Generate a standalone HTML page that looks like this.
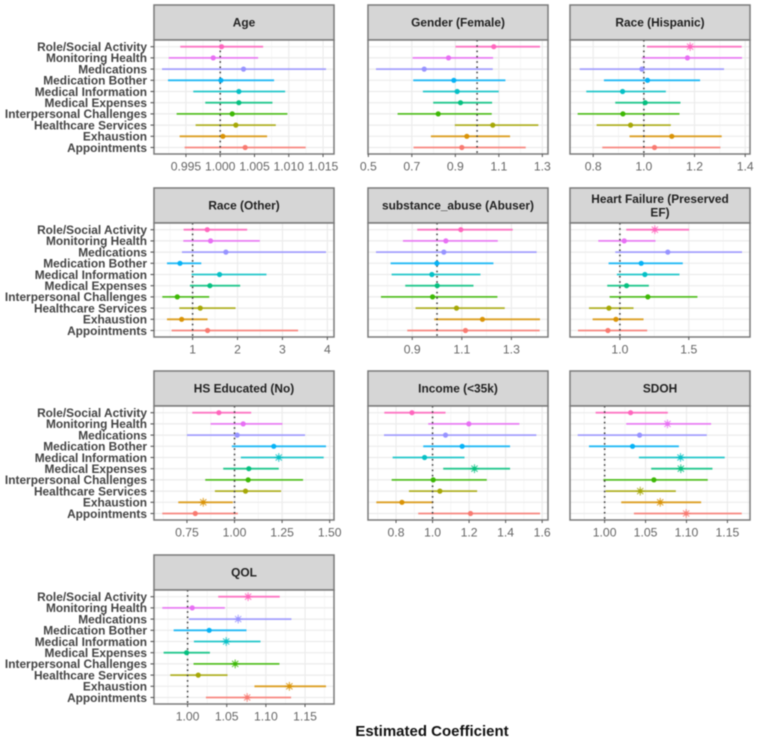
<!DOCTYPE html>
<html lang="en">
<head>
<meta charset="utf-8">
<title>Estimated Coefficient Forest Plots</title>
<style>
html,body{margin:0;padding:0;background:#fff;}
svg{display:block;filter:blur(0.5px);font-family:"Liberation Sans",sans-serif;}
</style>
</head>
<body>
<svg id="chart" xmlns="http://www.w3.org/2000/svg" width="759" height="742" viewBox="0 0 759 742">
<rect width="759" height="742" fill="#fff"/>
<text x="432" y="736" text-anchor="middle" font-size="15" font-weight="700" fill="#111">Estimated Coefficient</text>
</svg>
<script>
const categories = ['Role/Social Activity','Monitoring Health','Medications','Medication Bother','Medical Information','Medical Expenses','Interpersonal Challenges','Healthcare Services','Exhaustion','Appointments'];
const seriesColors = ['#FF62BC','#E76BF3','#9590FF','#00B0F6','#00BFC4','#00BF7D','#39B600','#A3A500','#D89000','#F8766D'];

const ageTicks = ['0.995','1.000','1.005','1.010','1.015'];
const ageDomain = [0.99034,1.0166];
const ageLow = [0.99417,0.99248,0.99151,0.99238,0.99607,0.99782,0.99364,0.99641,0.99408,0.99481];
const ageEst = [1.0002,0.99898,1.0034,1.0001,1.00272,1.00272,1.00175,1.00228,1.00039,1.00364];
const ageHigh = [1.00626,1.00553,1.01544,1.00786,1.00947,1.00762,1.0098,1.00811,1.00684,1.01247];

const genderTicks = ['0.5','0.7','0.9','1.1','1.3'];
const genderDomain = [0.4985,1.326];
const genderLow = [0.9008,0.7034,0.5352,0.7065,0.7509,0.7983,0.6346,0.8977,0.7876,0.708];
const genderEst = [1.0767,0.8686,0.757,0.8931,0.9084,0.9237,0.8212,1.0721,0.9528,0.9298];
const genderHigh = [1.2893,1.0736,1.0721,1.1302,1.0996,1.069,1.0675,1.2816,1.1516,1.2235];

const hispanicTicks = ['0.8','1.0','1.2','1.4'];
const hispanicDomain = [0.7085,1.4189];
const hispanicLow = [1.0118,0.9921,0.7466,0.8424,0.7728,0.8871,0.7387,0.8135,0.9435,0.8359];
const hispanicEst = [1.1825,1.172,0.9921,1.0144,0.916,1.0053,0.9173,0.9475,1.1103,1.042];
const hispanicHigh = [1.3861,1.3874,1.3165,1.2219,1.0867,1.1445,1.1405,1.1064,1.3073,1.302];

const otherTicks = ['1','2','3','4'];
const otherDomain = [0.1407,4.148];
const otherLow = [0.8,0.793,0.763,0.43,0.978,0.941,0.326,0.704,0.43,0.533];
const otherEst = [1.326,1.4,1.741,0.719,1.6,1.385,0.659,1.17,0.756,1.333];
const otherHigh = [2.215,2.496,3.97,1.193,2.644,2.059,1.37,1.956,1.333,3.348];

const substanceTicks = ['0.9','1.1','1.3'];
const substanceDomain = [0.7215,1.4477];
const substanceLow = [0.9201,0.8624,0.7537,0.8128,0.8168,0.8718,0.7738,0.9134,0.9886,0.8799];
const substanceEst = [1.096,1.0356,1.0275,0.9993,0.9792,1.0007,0.9819,1.0785,1.1832,1.1148];
const substanceHigh = [1.3054,1.245,1.402,1.2275,1.1752,1.147,1.2436,1.2732,1.4154,1.4141];

const heartTicks = ['1.0','1.5'];
const heartDomain = [0.6377,1.9444];
const heartLow = [1.0459,0.843,0.9662,0.9179,0.9783,0.9082,0.9251,0.7754,0.8019,0.6957];
const heartEst = [1.2536,1.0314,1.3478,1.1546,1.1812,1.0483,1.2029,0.9203,0.971,0.913];
const heartHigh = [1.5024,1.2585,1.8865,1.4565,1.4324,1.2101,1.5628,1.099,1.1715,1.1981];

const hsTicks = ['0.75','1.00','1.25','1.50'];
const hsDomain = [0.5769,1.5227];
const hsLow = [0.778,0.8741,0.75,0.986,1.0332,0.9406,0.8462,0.8969,0.7045,0.6206];
const hsEst = [0.9178,1.0455,1.014,1.2063,1.2325,1.0752,1.0717,1.0577,0.8357,0.7937];
const hsHigh = [1.0874,1.2517,1.3706,1.4808,1.4685,1.2325,1.3601,1.2448,0.9913,1.0175];

const incomeTicks = ['0.8','1.0','1.2','1.4','1.6'];
const incomeDomain = [0.6466,1.632];
const incomeLow = [0.7359,0.9763,0.7341,0.949,0.7814,1.0583,0.776,0.8707,0.6922,0.9217];
const incomeEst = [0.8871,1.1985,1.071,1.1621,0.9563,1.2295,1.0036,1.0401,0.8324,1.2077];
const incomeHigh = [1.071,1.4754,1.5683,1.4244,1.1749,1.4244,1.2969,1.2441,1.0036,1.5883];

const sdohTicks = ['1.00','1.05','1.10','1.15'];
const sdohDomain = [0.9577,1.1776];
const sdohLow = [0.989,1.0264,0.9671,0.9809,1.0419,1.0569,0.9984,1.0012,1.0203,1.0358];
const sdohEst = [1.0317,1.0768,1.0427,1.0341,1.0927,1.0931,1.0602,1.0435,1.0679,1.0996];
const sdohHigh = [1.0772,1.1301,1.1248,1.0907,1.1467,1.1317,1.126,1.087,1.1179,1.1675];

const qolTicks = ['1.00','1.05','1.10','1.15'];
const qolDomain = [0.9571,1.187];
const qolLow = [1.0391,0.9677,1.0017,0.9822,1.0081,0.9694,1.0076,0.9779,1.0854,1.0234];
const qolEst = [1.0773,1.0059,1.0646,1.0276,1.0493,0.9987,1.0608,1.0136,1.13,1.0761];
const qolHigh = [1.1177,1.0476,1.1326,1.0752,1.0931,1.0285,1.1173,1.051,1.1768,1.1322];

const panelTitles = [['Age'],['Gender (Female)'],['Race (Hispanic)'],['Race (Other)'],['substance_abuse (Abuser)'],['Heart Failure (Preserved','EF)'],['HS Educated (No)'],['Income (<35k)'],['SDOH'],['QOL']];
const panelTicks = [ageTicks,genderTicks,hispanicTicks,otherTicks,substanceTicks,heartTicks,hsTicks,incomeTicks,sdohTicks,qolTicks];
const panelDomains = [ageDomain,genderDomain,hispanicDomain,otherDomain,substanceDomain,heartDomain,hsDomain,incomeDomain,sdohDomain,qolDomain];
const panelLows = [ageLow,genderLow,hispanicLow,otherLow,substanceLow,heartLow,hsLow,incomeLow,sdohLow,qolLow];
const panelEsts = [ageEst,genderEst,hispanicEst,otherEst,substanceEst,heartEst,hsEst,incomeEst,sdohEst,qolEst];
const panelHighs = [ageHigh,genderHigh,hispanicHigh,otherHigh,substanceHigh,heartHigh,hsHigh,incomeHigh,sdohHigh,qolHigh];

const svg = document.getElementById('chart');
const NS = 'http://www.w3.org/2000/svg';
const colLeft = [154,368,570];
const rowTop = [5,188,371,555];
const panelW = 180, stripH = 35, panelH = 114;

function make(parent, tag, attrs, text) {
  const el = document.createElementNS(NS, tag);
  for (const k in attrs) el.setAttribute(k, attrs[k]);
  if (text !== undefined) el.textContent = text;
  parent.appendChild(el);
  return el;
}
function slug(s) { return s.toLowerCase().replace(/[^a-z0-9]+/g, '-').replace(/^-|-$/g, ''); }

panelTitles.forEach(function (titleLines, p) {
  const left = colLeft[p % 3], top = rowTop[Math.floor(p / 3)];
  const panelTop = top + stripH, panelBottom = panelTop + panelH;
  const dom = panelDomains[p];
  const xScale = function (v) { return left + (v - dom[0]) / (dom[1] - dom[0]) * panelW; };
  const yScale = function (i) { return panelTop + 6.7 + i * 11.2; };
  const name = slug(titleLines.join(' '));

  const g = make(svg, 'g', {});
  
  

  const strip = make(g, 'rect', {x:left, y:top, width:panelW, height:stripH, fill:'#d6d6d6', stroke:'#7a7a7a', 'stroke-width':1.5});
  
  

  titleLines.forEach(function (line, k) {
    const cy = top + stripH / 2 + 4 + (k - (titleLines.length - 1) / 2) * 13.5;
    const t = make(g, 'text', {x:left + panelW / 2, y:cy, 'text-anchor':'middle', 'font-size':11.9, 'font-weight':700, fill:'#222'}, line);
    
    
  });

  const bg = make(g, 'rect', {x:left, y:panelTop, width:panelW, height:panelH, fill:'#fff'});
  
  

  // Vertical grid: majors at tick multiples, minors halfway between.
  const tickVals = panelTicks[p].map(Number);
  const step = tickVals[1] - tickVals[0];
  for (let n = -40; n <= 40; n++) {
    const v = tickVals[0] + n * step / 2;
    if (v <= dom[0] || v >= dom[1]) continue;
    const major = n % 2 === 0;
    const gl = make(g, 'line', {x1:xScale(v), x2:xScale(v), y1:panelTop, y2:panelBottom, stroke:major ? '#ececec' : '#f4f4f4', 'stroke-width':major ? 1.2 : 0.8});
    
    
  }
  categories.forEach(function (c, i) {
    const gl = make(g, 'line', {x1:left, x2:left + panelW, y1:yScale(i), y2:yScale(i), stroke:'#ececec', 'stroke-width':1.2});
    
    
  });

  // Confidence intervals
  categories.forEach(function (c, i) {
    const ln = make(g, 'line', {x1:xScale(panelLows[p][i]), x2:xScale(panelHighs[p][i]), y1:yScale(i), y2:yScale(i), stroke:seriesColors[i], 'stroke-width':1.8, 'stroke-opacity':0.85});
    
    
  });

  // Reference line at 1
  const ref = make(g, 'line', {x1:xScale(1), x2:xScale(1), y1:panelTop, y2:panelBottom, stroke:'#333', 'stroke-width':1.5, 'stroke-dasharray':'1.5 3.8'});
  
  

  // Point estimates; asterisk where the interval excludes 1
  categories.forEach(function (c, i) {
    const cx = xScale(panelEsts[p][i]), cy = yScale(i);
    const significant = panelLows[p][i] > 1 || panelHighs[p][i] < 1;
    const pt = make(g, 'circle', {cx:cx, cy:cy, r:significant ? 2.2 : 2.6, fill:seriesColors[i], 'fill-opacity':significant ? 0.55 : 0.95});
    
    
    if (significant) {
      for (let a = 0; a < 4; a++) {
        const ang = a * Math.PI / 4, dx = Math.cos(ang) * 4.4, dy = Math.sin(ang) * 4.4;
        const st = make(g, 'line', {x1:cx - dx, y1:cy - dy, x2:cx + dx, y2:cy + dy, stroke:seriesColors[i], 'stroke-width':1.2, 'stroke-opacity':0.7});
        
        
      }
    }
  });

  const border = make(g, 'rect', {x:left, y:panelTop, width:panelW, height:panelH, fill:'none', stroke:'#7a7a7a', 'stroke-width':1.5});
  
  

  // X axis ticks and labels
  panelTicks[p].forEach(function (label) {
    const x = xScale(Number(label));
    const tk = make(g, 'line', {x1:x, x2:x, y1:panelBottom, y2:panelBottom + 3, stroke:'#555', 'stroke-width':1});
    
    
    const tl = make(g, 'text', {x:x, y:panelBottom + 16.5, 'text-anchor':'middle', 'font-size':12.2, fill:'#666'}, label);
    
    
  });

  // Y axis labels only in the first column
  if (p % 3 === 0) {
    categories.forEach(function (c, i) {
      const tk = make(g, 'line', {x1:left - 3.5, x2:left, y1:yScale(i), y2:yScale(i), stroke:'#555', 'stroke-width':1.1});
      
      
      const tl = make(g, 'text', {x:left - 7, y:yScale(i) + 4.3, 'text-anchor':'end', 'font-size':11.9, 'font-weight':700, fill:'#444'}, c);
      
      
    });
  }
});
</script>
</body>
</html>
